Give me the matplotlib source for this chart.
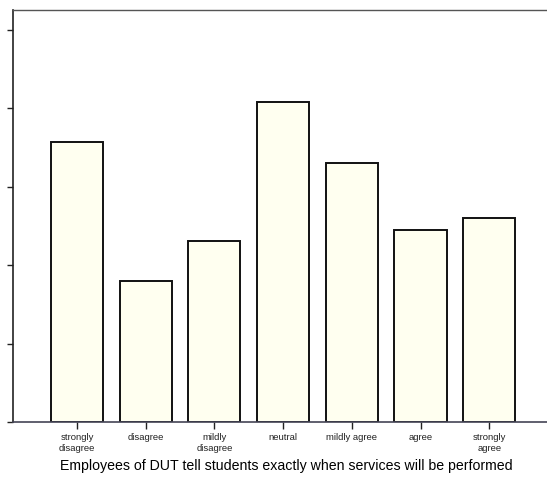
import matplotlib
matplotlib.use("Agg")
import matplotlib.pyplot as plt

categories = ["strongly\ndisagree", "disagree", "mildly\ndisagree", "neutral",
              "mildly agree", "agree", "strongly\nagree"]
values = [3.57, 1.80, 2.31, 4.08, 3.30, 2.45, 2.60]
y_ticks = [0, 1, 2, 3, 4, 5]
xlabel = "Employees of DUT tell students exactly when services will be performed"

plt.rcParams["font.family"] = ["Liberation Sans", "DejaVu Sans"]

fig = plt.figure(figsize=(5.47, 4.82), dpi=100)
ax = fig.add_axes([13 / 547, 60 / 482, 1 - 13 / 547, 412 / 482])

x = list(range(len(categories)))
ax.bar(x, values, width=0.76, color="#fffff0", edgecolor="#111111", linewidth=1.4)

ax.set_xlim(-0.93, 6.84)
ax.set_ylim(0, 5.255)
ax.set_yticks(y_ticks)
ax.set_yticklabels([])
ax.set_xticks(x)
ax.set_xticklabels(categories, fontsize=6.8, linespacing=1.25, color="#222222")
ax.tick_params(axis="x", length=5, width=1, pad=3, color="#222222")
ax.tick_params(axis="y", length=4, width=1, color="#222222")

ax.spines["right"].set_visible(False)
ax.spines["top"].set_color("#555555")
ax.spines["top"].set_linewidth(1.0)
ax.spines["left"].set_color("#222222")
ax.spines["left"].set_linewidth(1.2)
ax.spines["bottom"].set_color("#444455")
ax.spines["bottom"].set_linewidth(1.2)

fig.text(286 / 547, 1 - 466 / 482, xlabel, ha="center", va="center", fontsize=10.2)

fig.savefig("out.png", dpi=100)
